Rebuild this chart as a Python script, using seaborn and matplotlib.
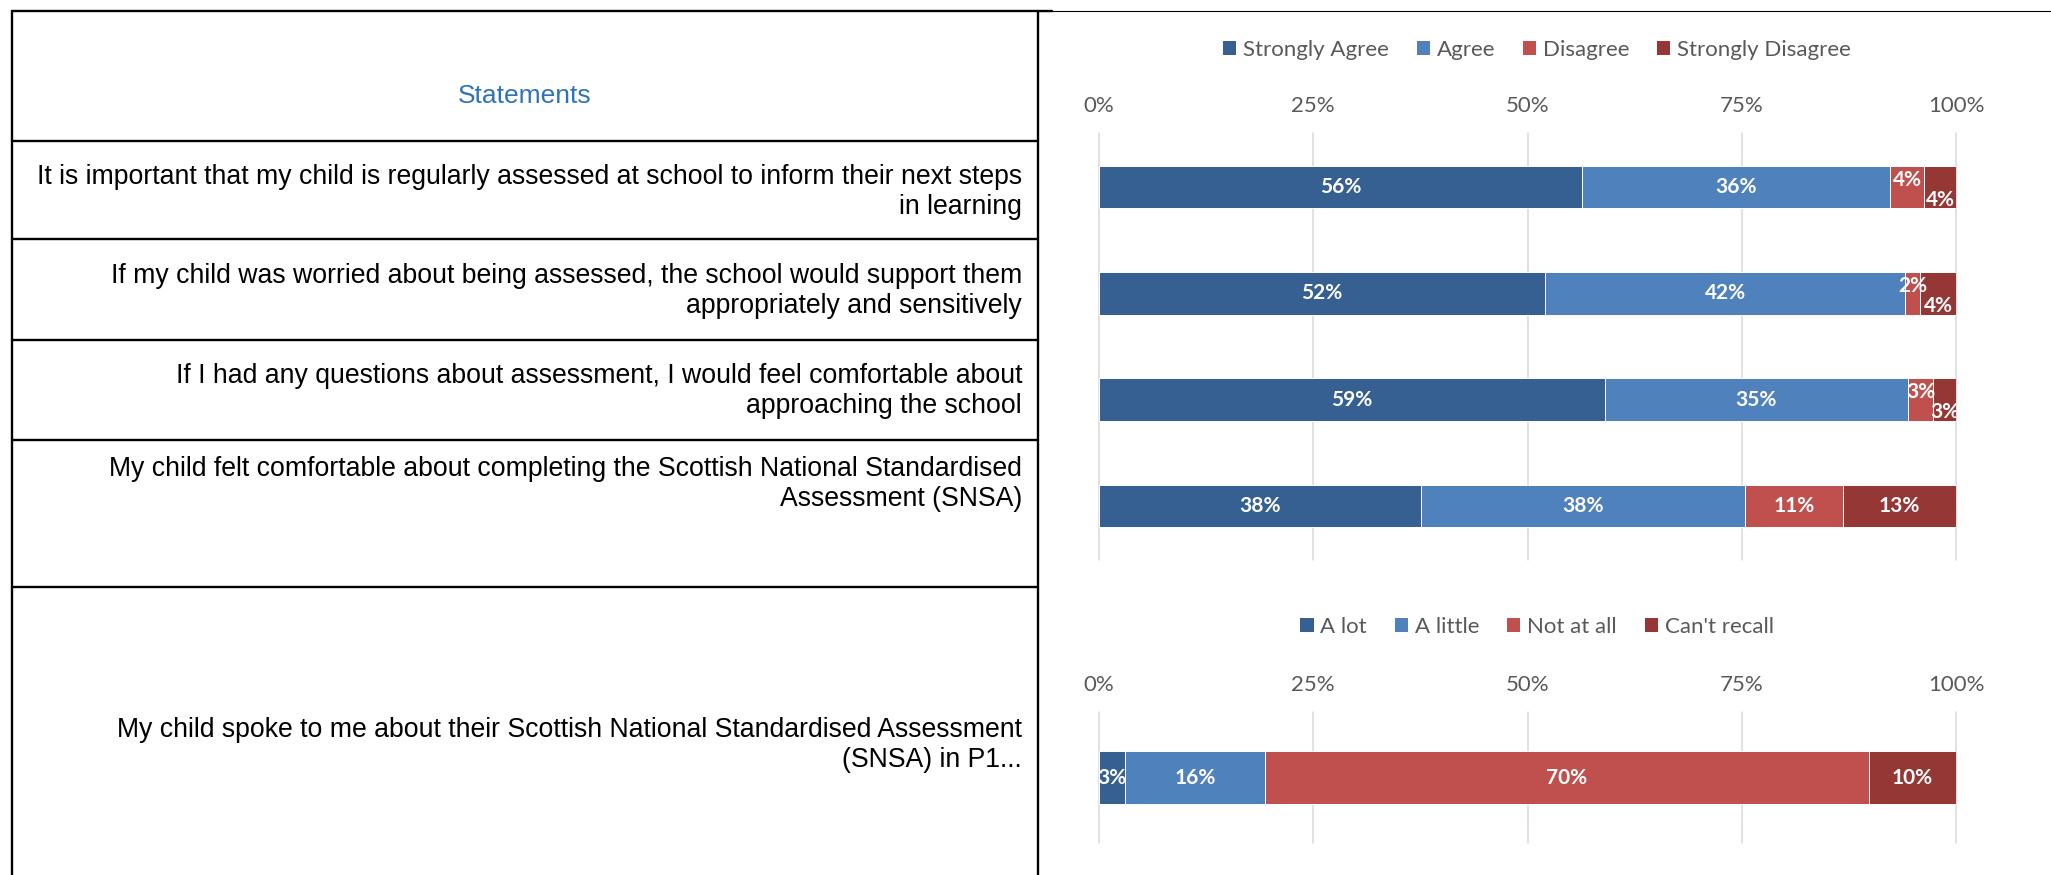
import matplotlib
matplotlib.use("Agg")
import matplotlib.pyplot as plt
from matplotlib.lines import Line2D
from matplotlib.patches import Patch
import seaborn as sns
import pandas as pd
import numpy as np

# ---------------- data ----------------
header = "Statements"
statements = [
    "It is important that my child is regularly assessed at school to inform their next steps\nin learning",
    "If my child was worried about being assessed, the school would support them\nappropriately and sensitively",
    "If I had any questions about assessment, I would feel comfortable about\napproaching the school",
    "My child felt comfortable about completing the Scottish National Standardised\nAssessment (SNSA)",
]
statement_p1 = ["My child spoke to me about their Scottish National Standardised Assessment\n(SNSA) in P1..."]

agree_cats = ["Strongly Agree", "Agree", "Disagree", "Strongly Disagree"]
strongly_agree = [56.4, 52.0, 59.0, 37.6]
agree = [35.9, 42.1, 35.4, 37.8]
disagree = [4.0, 1.7, 2.9, 11.4]
strongly_disagree = [3.7, 4.2, 2.7, 13.2]

talk_cats = ["A lot", "A little", "Not at all", "Can't recall"]
a_lot = [3.0]
a_little = [16.4]
not_at_all = [70.4]
cant_recall = [10.2]

x_ticks = [0, 25, 50, 75, 100]
x_tick_labels = ["0%", "25%", "50%", "75%", "100%"]

# ---------------- style ----------------
COLORS = ["#376092", "#4F81BD", "#C0504D", "#953735"]
GRID = "#D9D9D9"
TICK = "#595959"
W, H = 2051, 875

sns.set_theme(style="white")
plt.rcParams["font.family"] = ["Lato", "DejaVu Sans"]

fig = plt.figure(figsize=(W / 100, H / 100), dpi=100)
fig.patch.set_facecolor("white")


def fx(px):
    return px / W


def fy(py):
    return 1 - py / H


def stacked(ax, rows, series, width, cats, legend_y):
    vals = np.array(series, dtype=float)
    cum = np.cumsum(vals, axis=0)
    starts = cum - vals
    for k in range(len(series) - 1, -1, -1):
        df = pd.DataFrame({"row": rows, "value": cum[k]})
        sns.barplot(data=df, x="value", y="row", order=rows, orient="h",
                    color=COLORS[k], saturation=1, width=width,
                    edgecolor="white", linewidth=0.7, errorbar=None, ax=ax)
    # labels
    for i in range(len(rows)):
        small = [k for k in range(len(series)) if vals[k, i] < 5]
        offs = {}
        if len(small) >= 2:
            for j, k in enumerate(small):
                offs[k] = -0.07 if j % 2 == 0 else 0.12
        for k in range(len(series)):
            v = vals[k, i]
            ax.text(starts[k, i] + v / 2, i + offs.get(k, 0.0), f"{round(v)}%",
                    ha="center", va="center", color="white",
                    fontweight="bold", fontsize=15, clip_on=True)
    ax.set_xlim(0, 100)
    ax.set_xticks(x_ticks)
    ax.set_xticklabels(x_tick_labels)
    ax.xaxis.tick_top()
    ax.tick_params(axis="x", length=0, pad=12, labelsize=16, labelcolor=TICK)
    ax.set_yticks([])
    ax.set_xlabel("")
    ax.set_ylabel("")
    ax.grid(axis="x", color=GRID, linewidth=1.1)
    ax.grid(axis="y", visible=False)
    ax.set_axisbelow(True)
    for ln in ax.get_xgridlines():
        ln.set_clip_on(False)
    for s in ax.spines.values():
        s.set_visible(False)
    ax.set_facecolor("none")
    handles = [Patch(facecolor=c, edgecolor="none") for c in COLORS]
    ax.legend(handles, cats, loc="center", bbox_to_anchor=(fx(1537), fy(legend_y)),
              bbox_transform=fig.transFigure, ncol=4, frameon=False, fontsize=16,
              handlelength=0.6, handleheight=0.6, handletextpad=0.3,
              columnspacing=1.25, labelcolor=TICK)


# top chart
ax1 = fig.add_axes([fx(1099), fy(560), fx(857), 427 / H])
stacked(ax1, statements, [strongly_agree, agree, disagree, strongly_disagree],
        0.4, agree_cats, 50)
ax1.set_ylim(3.51, -0.51)

# bottom chart
ax2 = fig.add_axes([fx(1099), fy(843), fx(857), 131 / H])
stacked(ax2, statement_p1, [a_lot, a_little, not_at_all, cant_recall],
        0.405, talk_cats, 627)
ax2.set_ylim(0.5, -0.5)

# ---------------- table ----------------
LW = 1.7
def hline(y, x0, x1, lw=LW):
    fig.add_artist(Line2D([fx(x0), fx(x1)], [fy(y), fy(y)], color="black",
                          linewidth=lw, transform=fig.transFigure))

def vline(x, y0, y1, lw=LW):
    fig.add_artist(Line2D([fx(x), fx(x)], [fy(y0), fy(y1)], color="black",
                          linewidth=lw, transform=fig.transFigure))

hline(11, 1038, W, lw=0.8)
hline(11, 12, 1052)
for y in [141, 239, 340, 440, 587]:
    hline(y, 12, 1038)
vline(12, 11, H)
vline(1038, 11, H)

fig.text(fx(525), fy(96), header, ha="center", va="center", color="#2E74B5",
         fontsize=19, family=["Liberation Sans", "DejaVu Sans"])

first_baselines = [184, 283, 383, 476, 737]
line_gap = 30
for text, b in zip(statements + statement_p1, first_baselines):
    for j, line in enumerate(text.split("\n")):
        fig.text(fx(1022), fy(b + j * line_gap), line, ha="right", va="baseline",
                 color="black", fontsize=19.2,
                 family=["Liberation Sans", "DejaVu Sans"])

fig.savefig("out.png", dpi=100, facecolor="white")
